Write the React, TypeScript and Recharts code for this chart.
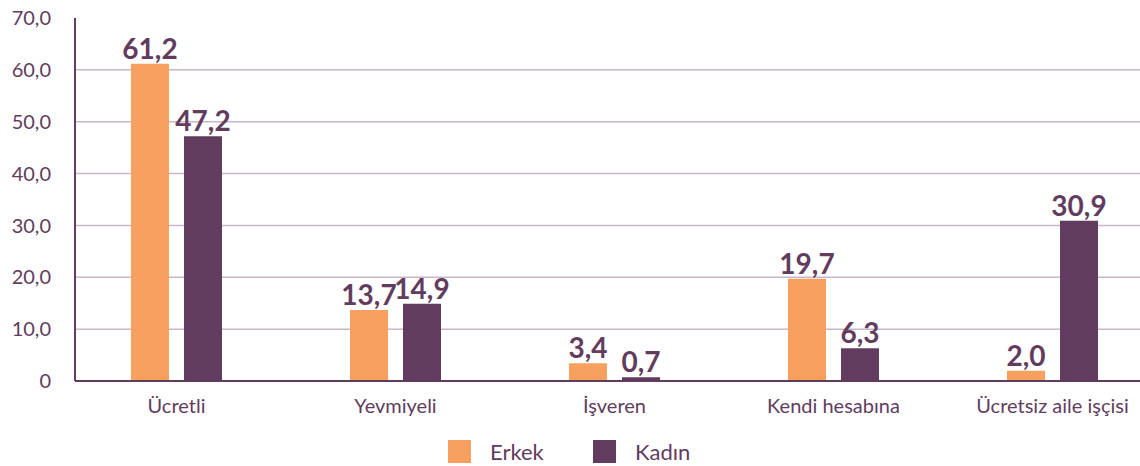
import React from "react"
import { BarChart, Bar, XAxis, YAxis, CartesianGrid, Legend, LabelList } from "recharts"

const categories = ["Ücretli", "Yevmiyeli", "İşveren", "Kendi hesabına", "Ücretsiz aile işçisi"]
const erkek = [61.2, 13.7, 3.4, 19.7, 2.0]
const kadin = [47.2, 14.9, 0.7, 6.3, 30.9]
const yTicks = [0, 10, 20, 30, 40, 50, 60, 70]

const data = categories.map((name, i) => ({ name, erkek: erkek[i], kadin: kadin[i] }))

const PURPLE = "#623C5E"
const ORANGE = "#F7A060"
const GRID = "#C9B6C7"
const FONT = "Lato, 'Open Sans', sans-serif"

const fmt = (v: number) => (v === 0 ? "0" : v.toFixed(1).replace(".", ","))

function LegendContent() {
  const items = [
    { label: "Erkek", color: ORANGE },
    { label: "Kadın", color: PURPLE },
  ]
  return (
    <div style={{ display: "flex", paddingLeft: 448 }}>
      {items.map((it) => (
        <div key={it.label} style={{ display: "flex", alignItems: "center", width: 145 }}>
          <span style={{ width: 23, height: 23, background: it.color, display: "inline-block", marginRight: 19 }} />
          <span style={{ color: PURPLE, fontSize: 22, fontFamily: FONT, lineHeight: "23px" }}>{it.label}</span>
        </div>
      ))}
    </div>
  )
}

export default function App() {
  return (
    <div style={{ position: "absolute", left: 0, top: 0, width: 1140, height: 466, overflow: "hidden", background: "#fff" }}>
      <BarChart
        width={1140}
        height={466}
        data={data}
        margin={{ top: 18, right: 0, left: 0, bottom: 17 }}
        barGap={15}
        barSize={38}
      >
        <CartesianGrid horizontal vertical={false} stroke={GRID} strokeWidth={1.5} horizontalValues={[10, 20, 30, 40, 50, 60]} />
        <XAxis
          dataKey="name"
          tickLine={false}
          axisLine={{ stroke: PURPLE, strokeWidth: 2 }}
          padding={{ left: -8, right: -22 }}
          tick={{ fill: PURPLE, fontSize: 20, fontFamily: FONT }}
          tickMargin={12}
          height={45}
        />
        <YAxis
          width={75}
          domain={[0, 70]}
          ticks={yTicks}
          tickFormatter={fmt}
          tickLine={false}
          axisLine={{ stroke: PURPLE, strokeWidth: 2 }}
          tick={{ fill: PURPLE, fontSize: 20, fontFamily: FONT }}
          tickMargin={18}
        />
        <Legend
          content={<LegendContent />}
          wrapperStyle={{ position: "absolute", top: 440, left: 0, width: 1140, height: 23 }}
        />
        <Bar dataKey="erkek" name="Erkek" fill={ORANGE} isAnimationActive={false}>
          <LabelList dataKey="erkek" position="top" offset={5} formatter={(v: any) => fmt(Number(v))} fill={PURPLE} fontSize={28} fontWeight={700} fontFamily={FONT} />
        </Bar>
        <Bar dataKey="kadin" name="Kadın" fill={PURPLE} isAnimationActive={false}>
          <LabelList dataKey="kadin" position="top" offset={5} formatter={(v: any) => fmt(Number(v))} fill={PURPLE} fontSize={28} fontWeight={700} fontFamily={FONT} />
        </Bar>
      </BarChart>
    </div>
  )
}
